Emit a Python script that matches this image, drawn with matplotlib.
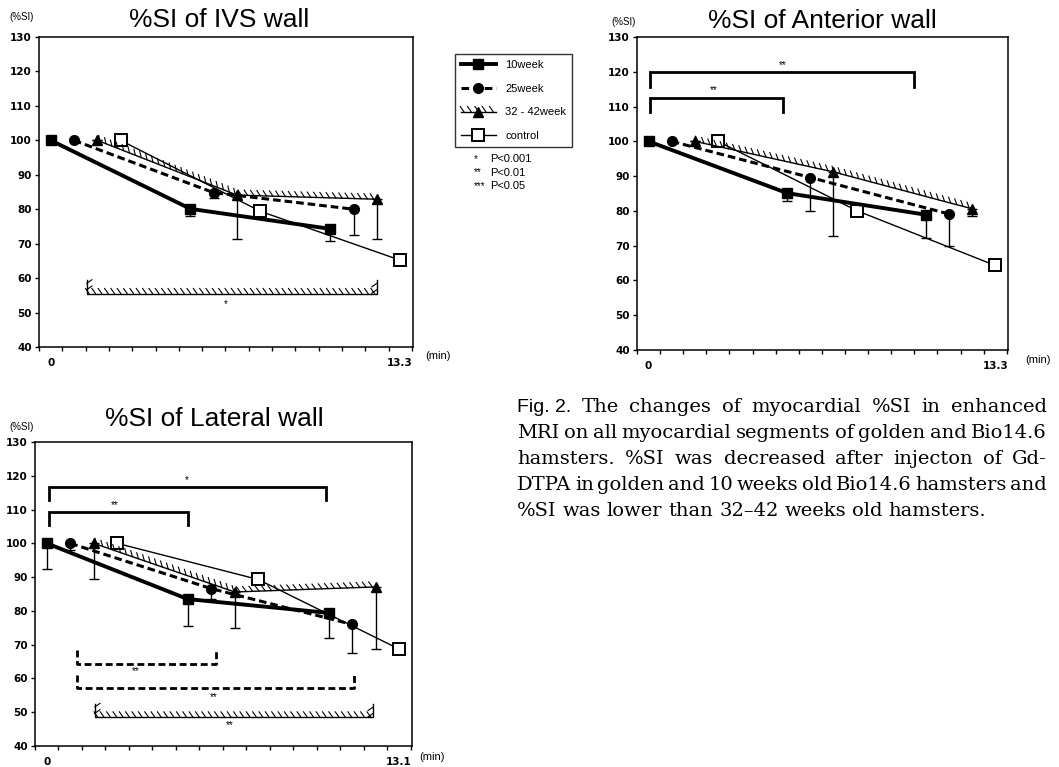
import numpy as np
import matplotlib
matplotlib.use('Agg')
import matplotlib.pyplot as plt
import matplotlib.patheffects as pe

plt.rcParams['font.family'] = ['Liberation Sans', 'DejaVu Sans']

W, H = 1059, 767

# category slots on the x axis (4 groups side by side at 3 time points)
x_10 = [0, 6, 12]
x_25 = [1, 7, 13]
x_32 = [2, 8, 14]
x_ctl = [3, 9, 15]

# IVS wall: means and lower end of the error bars
ivs_10 = [100, 80.1, 74.3]
ivs_10_low = [100, 78.0, 70.8]
ivs_25 = [100, 84.8, 80.0]
ivs_25_low = [100, 83.4, 72.5]
ivs_32 = [100, 84.1, 82.9]
ivs_32_low = [100, 71.4, 71.4]
ivs_ctl = [100, 79.4, 65.2]

# Anterior wall
ant_10 = [100, 85.1, 78.9]
ant_10_low = [100, 82.8, 72.1]
ant_25 = [100, 89.6, 79.1]
ant_25_low = [100, 79.9, 69.8]
ant_32 = [100, 91.2, 80.6]
ant_32_low = [100, 72.8, 78.6]
ant_ctl = [100, 80.1, 64.3]

# Lateral wall
lat_10 = [100, 83.5, 79.4]
lat_10_low = [92.3, 75.4, 72.1]
lat_25 = [100, 86.6, 76.0]
lat_25_low = [98.0, 83.4, 67.5]
lat_32 = [100, 85.6, 87.1]
lat_32_low = [89.4, 74.9, 68.8]
lat_ctl = [100, 89.3, 68.7]

# significance brackets: (start, end, bar level, end level, label, label x, label y, style)
ivs_brackets = [(1.55, 14.0, 55.5, 59.4, '*', 7.5, 52.6, 'hatch')]
ant_brackets = [(0.07, 11.5, 119.8, 115.6, '**', 5.8, 122.0, 'solid'),
                (0.07, 5.8, 112.5, 108.3, '**', 2.8, 114.6, 'solid')]
lat_brackets = [(0.1, 11.9, 116.7, 112.8, '*', 5.95, 118.8, 'solid'),
                (0.1, 6.0, 109.3, 105.3, '**', 2.9, 111.3, 'solid'),
                (1.3, 7.2, 64.4, 68.5, '**', 3.8, 62.3, 'dash'),
                (1.3, 13.1, 57.2, 60.9, '**', 7.1, 54.5, 'dash'),
                (2.05, 13.9, 48.6, 52.5, '**', 7.8, 46.1, 'hatch')]

legend_labels = ['10week', '25week', '32 - 42week', 'control']
p_marks = ['*', '**', '***']
p_texts = ['P<0.001', 'P<0.01', 'P<0.05']

caption_lines = [
    ['Fig. 2.', 'The changes of myocardial %SI in enhanced'],
    ['', 'MRI on all myocardial segments of golden and Bio14.6'],
    ['', 'hamsters. %SI was decreased after injecton of Gd-'],
    ['', 'DTPA in golden and 10 weeks old Bio14.6 hamsters and'],
    ['', '%SI was lower than 32\u201342 weeks old hamsters.'],
]


def hatched():
    return [pe.withTickedStroke(spacing=4.5, angle=125, length=1.0, linewidth=0.8)]


def draw_panel(ax, s10, l10, s25, l25, s32, l32, sctl, brackets, last_label):
    def err(v, lo):
        return [np.array(v) - np.array(lo), np.zeros(len(v))]

    for xs, v, lo in [(x_10, s10, l10), (x_25, s25, l25), (x_32, s32, l32)]:
        ax.errorbar(xs, v, yerr=err(v, lo), fmt='none', ecolor='black',
                    elinewidth=1, capsize=3.5, capthick=1, zorder=2)

    hc, = ax.plot(x_ctl, sctl, color='black', lw=1, marker='s', ms=8,
                  mfc='white', mec='black', mew=1.4, zorder=3)
    h32l, = ax.plot(x_32, s32, color='black', lw=1, path_effects=hatched(), zorder=3)
    h32m, = ax.plot(x_32, s32, ls='none', marker='^', ms=7, color='black', zorder=4)
    h25, = ax.plot(x_25, s25, color='black', lw=2.2, ls=(0, (2.5, 1.3)),
                   marker='o', ms=7, zorder=4)
    h10, = ax.plot(x_10, s10, color='black', lw=2.8, marker='s', ms=6.5, zorder=5)

    for x0, x1, yb, ye, lab, lx, ly, style in brackets:
        bx = [x0, x0, x1, x1]
        by = [ye, yb, yb, ye]
        if style == 'solid':
            ax.plot(bx, by, color='black', lw=2, solid_joinstyle='miter', zorder=2)
        elif style == 'dash':
            ax.plot(bx, by, color='black', lw=2, ls=(0, (2.5, 1.3)), zorder=2)
        else:
            ax.plot(bx, by, color='black', lw=1, path_effects=hatched(), zorder=2)
        ax.text(lx, ly, lab, ha='center', va='center', fontsize=7)

    ax.set_xlim(-0.5, 15.55)
    ax.set_ylim(40, 130)
    ax.set_yticks(np.arange(40, 131, 10))
    ax.set_xticks([0, 15])
    ax.set_xticklabels(['0', last_label])
    ax.set_xticks(np.arange(-0.5, 15.6, 1), minor=True)
    ax.tick_params(axis='x', which='major', length=0, pad=8)
    ax.tick_params(axis='x', which='minor', length=3, direction='out', width=1)
    ax.tick_params(axis='y', length=3, direction='out', pad=2, width=1)
    for lab in ax.get_yticklabels() + ax.get_xticklabels():
        lab.set_fontfamily(['DejaVu Sans'])
        lab.set_fontweight('bold')
        lab.set_fontsize(7.5)
    for sp in ax.spines.values():
        sp.set_linewidth(1.1)
    return [h10, h25, (h32l, h32m), hc]


fig = plt.figure(figsize=(W / 100, H / 100), dpi=100)

ax1 = fig.add_axes([39 / W, 1 - 347 / H, 374 / W, 310 / H])
ax2 = fig.add_axes([637 / W, 1 - 350 / H, 371 / W, 313 / H])
ax3 = fig.add_axes([35 / W, 1 - 746 / H, 377 / W, 304 / H])

handles = draw_panel(ax1, ivs_10, ivs_10_low, ivs_25, ivs_25_low, ivs_32, ivs_32_low,
                     ivs_ctl, ivs_brackets, '13.3')
draw_panel(ax2, ant_10, ant_10_low, ant_25, ant_25_low, ant_32, ant_32_low,
           ant_ctl, ant_brackets, '13.3')
draw_panel(ax3, lat_10, lat_10_low, lat_25, lat_25_low, lat_32, lat_32_low,
           lat_ctl, lat_brackets, '13.1')

# titles and axis notes
for cx, cy, t in [(219, 20, '%SI of IVS wall'), (822, 21, '%SI of Anterior wall'),
                  (214, 419, '%SI of Lateral wall')]:
    fig.text(cx / W, 1 - cy / H, t, ha='center', va='center', fontsize=19)
for lx, ly in [(22, 17), (624, 22), (22, 427)]:
    fig.text(lx / W, 1 - ly / H, '(%SI)', ha='center', va='center', fontsize=7)
for lx, ly in [(438, 356), (1038, 360), (432, 757)]:
    fig.text(lx / W, 1 - ly / H, '(min)', ha='center', va='center', fontsize=8)

leg = fig.legend(handles, legend_labels, loc='upper left',
                 bbox_to_anchor=(449 / W, 1 - 48 / H), frameon=True, fancybox=False,
                 edgecolor='black', fontsize=8, labelspacing=1.25, handlelength=3.2,
                 borderpad=0.55, handletextpad=0.8)
leg.get_frame().set_linewidth(1)

for i, (m, t) in enumerate(zip(p_marks, p_texts)):
    y = 1 - (159 + 13.5 * i) / H
    fig.text(474 / W, y, m, ha='left', va='center', fontsize=7)
    fig.text(490 / W, y, t, ha='left', va='center', fontsize=8)

# justified caption
fig.canvas.draw()
rend = fig.canvas.get_renderer()
cap_left, cap_right = 517, 1047
cap_base = [412, 438, 464, 490, 516]
for i, (head, body) in enumerate(caption_lines):
    words = ([head] if head else []) + body.split(' ')
    texts = []
    for j, w in enumerate(words):
        fam = ['Liberation Sans'] if (head and j == 0) else ['DejaVu Serif']
        texts.append(fig.text(0, 1 - cap_base[i] / H, w, family=fam, fontsize=14,
                              va='baseline', ha='left'))
    widths = [t.get_window_extent(rend).width for t in texts]
    if i == len(caption_lines) - 1:
        gap = 6
    else:
        gap = (cap_right - cap_left - sum(widths)) / (len(words) - 1)
    x = cap_left
    for t, wd in zip(texts, widths):
        t.set_x(x / W)
        x += wd + gap

fig.savefig('out.png', dpi=100)
